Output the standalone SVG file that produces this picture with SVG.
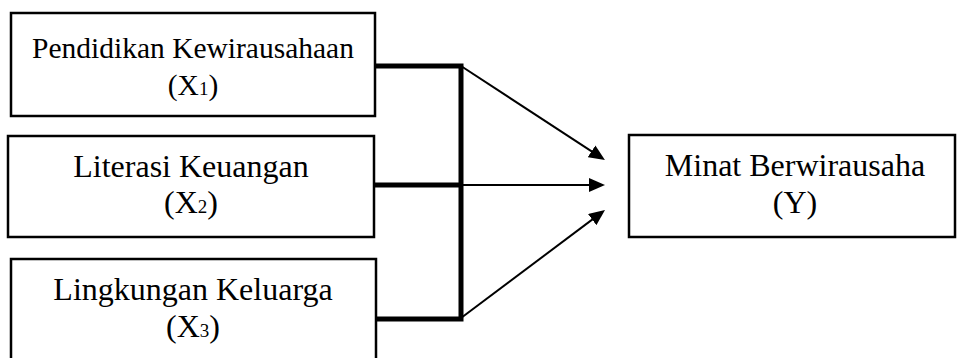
<svg xmlns="http://www.w3.org/2000/svg" width="957" height="358" viewBox="0 0 957 358">
<style>
.box{fill:#fff;stroke:#000;stroke-width:2.5}
.t{font-family:"Liberation Serif","Times New Roman",serif;font-size:32px;fill:#000;text-anchor:middle}
.t1{font-size:29.5px}
.sub{font-size:19px}
.thick{stroke:#000;stroke-width:5;fill:none}
.arr{stroke:#000;stroke-width:2;fill:none;marker-end:url(#ah)}
</style>
<defs>
<marker id="ah" viewBox="0 0 16 14" refX="12" refY="7" markerWidth="16" markerHeight="14" markerUnits="userSpaceOnUse" orient="auto">
<path d="M0,0 L16,7 L0,14 z" fill="#000"/>
</marker>
</defs>
<g id="x1">
<rect class="box" x="11" y="13" width="364" height="103"/>
<text class="t t1" x="193" y="58">Pendidikan Kewirausahaan</text>
<text class="t t1" x="193" y="95">(X<tspan class="sub">1</tspan>)</text>
</g>
<g id="x2">
<rect class="box" x="8" y="136" width="366" height="101"/>
<text class="t" x="191" y="177">Literasi Keuangan</text>
<text class="t" x="191" y="213">(X<tspan class="sub">2</tspan>)</text>
</g>
<g id="x3">
<rect class="box" x="11" y="259" width="365" height="110"/>
<text class="t" x="193" y="300">Lingkungan Keluarga</text>
<text class="t" x="193" y="337">(X<tspan class="sub">3</tspan>)</text>
</g>
<g id="y">
<rect class="box" x="629" y="135" width="326" height="102"/>
<text class="t" x="795" y="176">Minat Berwirausaha</text>
<text class="t" x="795" y="213">(Y)</text>
</g>
<g id="connectors">
<path class="thick" d="M375,66 H461 V319 H376"/>
<path class="thick" d="M374,185 H461"/>
<line class="arr" x1="461" y1="66" x2="601.6" y2="157.8"/>
<line class="arr" x1="461" y1="185" x2="601" y2="185"/>
<line class="arr" x1="461" y1="318" x2="601.8" y2="212.4"/>
</g>
</svg>
